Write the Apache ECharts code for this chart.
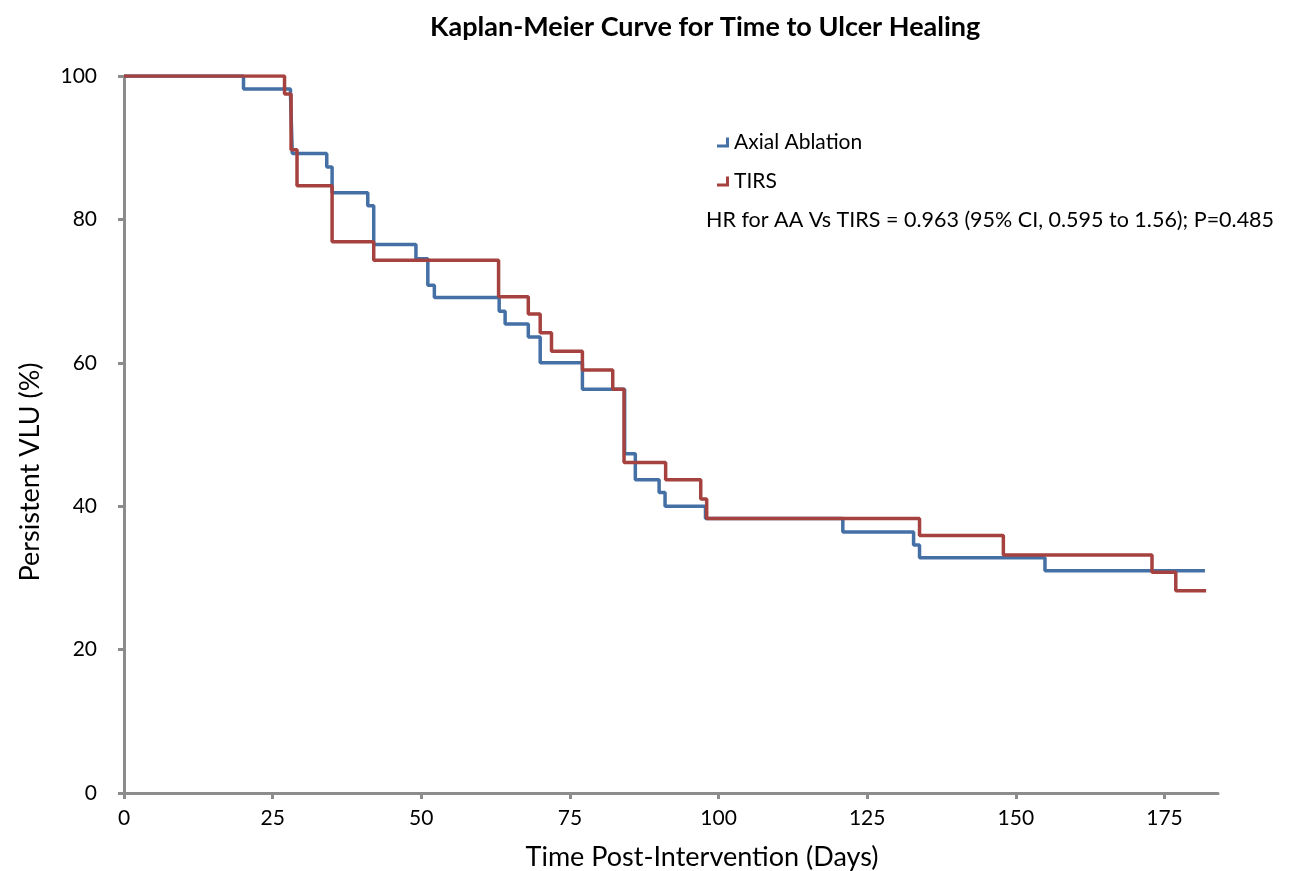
<!DOCTYPE html>
<html>
<head>
<meta charset="utf-8">
<script src="https://cdn.jsdelivr.net/npm/echarts@6/dist/echarts.min.js"></script>
<style>
  html, body { margin: 0; padding: 0; background: #fff; }
  #main { width: 1295px; height: 871px; }
</style>
</head>
<body>
<div id="main"></div>
<script>
// values (days, % persistent)
let aaDays = [0, 20.1, 28.0, 28.3, 34.1, 35.0, 41.0, 42.0, 49.1, 51.1, 52.2, 63.1, 64.1, 68.0, 70.0, 77.1, 84.2, 86.0, 90.0, 91.0, 97.8, 120.9, 132.8, 133.8, 154.9, 181.8];
let aaPct = [100, 98.2, 97.5, 89.2, 87.3, 83.7, 81.9, 76.5, 74.5, 70.8, 69.1, 67.2, 65.4, 63.6, 60.0, 56.3, 47.3, 43.7, 41.9, 40.0, 38.3, 36.4, 34.6, 32.8, 31.0, 31.0];
let tirsDays = [0, 27.0, 28.1, 29.1, 35.0, 42.0, 63.0, 68.0, 70.0, 71.9, 77.1, 82.2, 84.1, 91.1, 97.0, 98.0, 133.8, 147.9, 172.9, 176.9, 182.0];
let tirsPct = [100, 97.5, 89.7, 84.7, 76.9, 74.3, 69.2, 66.8, 64.2, 61.6, 59.0, 56.3, 46.1, 43.7, 41.0, 38.3, 35.9, 33.2, 30.8, 28.2, 28.2];
let xTicks = [0, 25, 50, 75, 100, 125, 150, 175];

let font = 'Lato';
let axisGray = '#8c8c8c';

function pairs(xs, ys) {
	return xs.map(function (x, i) { return [x, ys[i]]; });
}

let myChart = echarts.init(document.getElementById('main'));
let option = {
	backgroundColor: '#fff',
	animation: false,
	title: {
		text: 'Kaplan-Meier Curve for Time to Ulcer Healing',
		left: 425,
		top: 9,
		textStyle: { fontFamily: font, fontSize: 27, fontWeight: 'bold', color: '#000' }
	},
	legend: {
		orient: 'vertical',
		left: 712,
		top: 127,
		itemGap: 18,
		itemWidth: 12,
		itemHeight: 10,
		icon: 'path://M0,7 L9,7 L9,0 L12,0 L12,10 L0,10 Z',
		textStyle: { fontFamily: font, fontSize: 21, color: '#000' },
		data: ['Axial Ablation', 'TIRS']
	},
	graphic: [
		{
			type: 'text',
			left: 706,
			top: 209,
			style: {
				text: 'HR for AA Vs TIRS = 0.963 (95% CI, 0.595 to 1.56); P=0.485',
				fontFamily: font,
				fontSize: 21.5,
				fill: '#000'
			}
		},
		{
			type: 'text',
			x: 702,
			y: 857,
			style: {
				text: 'Time Post-Intervention (Days)',
				fontFamily: font,
				fontSize: 27,
				fill: '#000',
				align: 'center',
				verticalAlign: 'middle'
			}
		},
		{
			type: 'text',
			x: 30,
			y: 472,
			rotation: Math.PI / 2,
			style: {
				text: 'Persistent VLU (%)',
				fontFamily: font,
				fontSize: 27,
				fill: '#000',
				align: 'center',
				verticalAlign: 'middle'
			}
		}
	],
	grid: { left: 124, right: 77, top: 76, bottom: 78 },
	xAxis: {
		type: 'value',
		min: 0,
		max: 184,
		interval: 25,
		axisLine: { lineStyle: { color: axisGray, width: 3 } },
		axisTick: { length: 6, lineStyle: { color: axisGray, width: 3 }, customValues: xTicks },
		axisLabel: { fontFamily: font, fontSize: 21, color: '#000', margin: 15, customValues: xTicks },
		splitLine: { show: false }
	},
	yAxis: {
		type: 'value',
		min: 0,
		max: 100,
		interval: 20,
		axisLine: { show: true, lineStyle: { color: axisGray, width: 3 } },
		axisTick: { show: true, length: 6, lineStyle: { color: axisGray, width: 3 } },
		axisLabel: { fontFamily: font, fontSize: 21, color: '#000', margin: 27 },
		splitLine: { show: false }
	},
	series: [
		{
			name: 'Axial Ablation',
			type: 'line',
			step: 'end',
			showSymbol: false,
			color: '#4470a5',
			lineStyle: { width: 3.5 },
			data: pairs(aaDays, aaPct)
		},
		{
			name: 'TIRS',
			type: 'line',
			step: 'end',
			showSymbol: false,
			color: '#a5413f',
			lineStyle: { width: 3.5 },
			data: pairs(tirsDays, tirsPct)
		}
	]
};
myChart.setOption(option);
</script>
</body>
</html>
